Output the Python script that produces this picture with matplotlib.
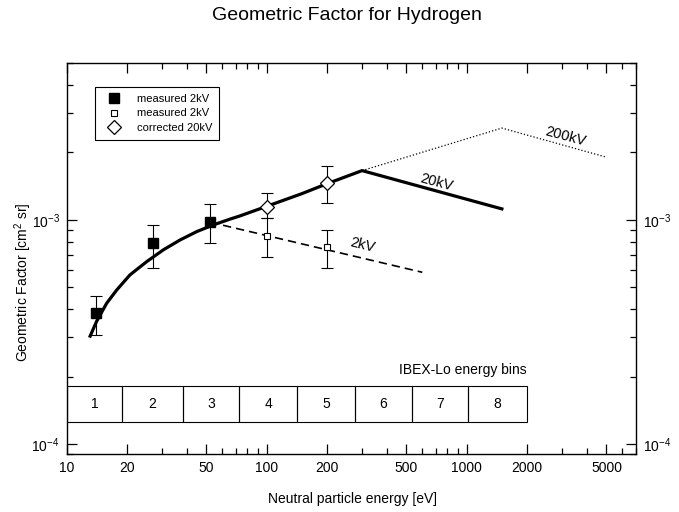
import numpy as np
import matplotlib
matplotlib.use('Agg')
import matplotlib.pyplot as plt
from matplotlib.patches import Rectangle
from matplotlib.lines import Line2D
from matplotlib.ticker import FixedLocator, FixedFormatter, LogLocator, NullFormatter

plt.rcParams['font.family'] = ['Liberation Sans', 'DejaVu Sans']
plt.rcParams['mathtext.fontset'] = 'custom'
plt.rcParams['mathtext.rm'] = 'Liberation Sans'

# measured 2kV (filled squares)
e_meas = [14.0, 26.9, 52.1]
g_meas = [3.83e-4, 7.87e-4, 9.77e-4]
g_meas_hi = [4.58e-4, 9.50e-4, 1.179e-3]
g_meas_lo = [3.07e-4, 6.12e-4, 7.87e-4]

# measured 2kV (small open squares)
e_open = [100, 200]
g_open = [8.48e-4, 7.60e-4]
g_open_hi = [1.018e-3, 9.02e-4]
g_open_lo = [6.82e-4, 6.09e-4]

# corrected 20kV (diamonds)
e_corr = [100, 200]
g_corr = [1.146e-3, 1.467e-3]
g_corr_hi = [1.316e-3, 1.74e-3]
g_corr_lo = [1.018e-3, 1.187e-3]

# 20kV curve
e_20 = [13.1, 14.1, 15.85, 17.8, 20.7, 25.1, 30.4, 36.9, 44.7, 54.1, 65.5, 73.5, 100, 150, 200, 300, 1500]
g_20 = [3.03e-4, 3.52e-4, 4.25e-4, 4.87e-4, 5.68e-4, 6.51e-4, 7.35e-4, 8.14e-4, 8.87e-4,
        9.50e-4, 1.008e-3, 1.042e-3, 1.15e-3, 1.31e-3, 1.45e-3, 1.66e-3, 1.12e-3]

# 2kV dashed line
e_2 = [52.1, 600]
g_2 = [9.77e-4, 5.84e-4]

# 200kV dotted line
e_200 = [300, 1500, 5000]
g_200 = [1.66e-3, 2.57e-3, 1.905e-3]

# IBEX-Lo energy bins
bin_edges = [10, 19, 38, 73, 142, 275, 530, 1020, 2000]
bin_labels = ['1', '2', '3', '4', '5', '6', '7', '8']
bin_ylo, bin_yhi = 1.26e-4, 1.82e-4

fig = plt.figure(figsize=(6.79, 5.12), dpi=100)
ax = fig.add_axes([0.0982, 0.1127, 0.8380, 0.7637])
ax.set_xscale('log')
ax.set_yscale('log')
ax.set_xlim(10, 7000)
ax.set_ylim(9e-5, 5e-3)

ax.plot(e_200, g_200, color='black', linestyle=':', linewidth=0.9)
ax.plot(e_2, g_2, color='black', linestyle=(0, (5, 3)), linewidth=1.2)
ax.plot(e_20, g_20, color='black', linestyle='-', linewidth=2.3)

err_kw = dict(fmt='none', ecolor='black', elinewidth=0.8, capsize=4.3, capthick=0.8)
ax.errorbar(e_meas, g_meas, yerr=[np.subtract(g_meas, g_meas_lo), np.subtract(g_meas_hi, g_meas)], **err_kw)
ax.errorbar(e_open, g_open, yerr=[np.subtract(g_open, g_open_lo), np.subtract(g_open_hi, g_open)], **err_kw)
ax.errorbar(e_corr, g_corr, yerr=[np.subtract(g_corr, g_corr_lo), np.subtract(g_corr_hi, g_corr)], **err_kw)

ax.plot(e_meas, g_meas, 's', color='black', markersize=7.2, zorder=5)
ax.plot(e_open, g_open, 's', markerfacecolor='white', markeredgecolor='black',
        markersize=4.3, markeredgewidth=0.8, zorder=5)
ax.plot(e_corr, g_corr, 'D', markerfacecolor='white', markeredgecolor='black',
        markersize=7.2, markeredgewidth=0.9, zorder=5)

ax.text(300, 7.7e-4, '2kV', rotation=-14, ha='center', va='center', rotation_mode='anchor', fontsize=10.5)
ax.text(706, 1.47e-3, '20kV', rotation=-15, ha='center', va='center', rotation_mode='anchor', fontsize=10.5)
ax.text(3119, 2.35e-3, '200kV', rotation=-15, ha='center', va='center', rotation_mode='anchor', fontsize=10.5)

# energy bin boxes
for lo, hi, lab in zip(bin_edges[:-1], bin_edges[1:], bin_labels):
    ax.add_patch(Rectangle((lo, bin_ylo), hi - lo, bin_yhi - bin_ylo, fill=False,
                           edgecolor='black', linewidth=0.8))
    ax.text(np.sqrt(lo * hi), np.sqrt(bin_ylo * bin_yhi), lab, ha='center', va='center', fontsize=10)
ax.text(bin_edges[-1], 2.15e-4, 'IBEX-Lo energy bins', ha='right', va='center', fontsize=10)

# ticks
major_x = [10, 20, 50, 100, 200, 500, 1000, 2000, 5000]
ax.xaxis.set_major_locator(FixedLocator(major_x))
ax.xaxis.set_major_formatter(FixedFormatter([str(v) for v in major_x]))
ax.xaxis.set_minor_locator(LogLocator(base=10, subs=(3, 4, 6, 7, 8, 9)))
ax.xaxis.set_minor_formatter(NullFormatter())
ax.yaxis.set_major_locator(LogLocator(base=10, numticks=10))
ax.yaxis.set_minor_locator(LogLocator(base=10, subs=np.arange(2, 10), numticks=10))
ax.yaxis.set_minor_formatter(NullFormatter())
ax.tick_params(which='both', direction='in', top=True, right=True, labelright=True, width=0.9)
ax.tick_params(which='major', length=7, labelsize=10, pad=5)
ax.tick_params(which='minor', length=4)
for s in ax.spines.values():
    s.set_linewidth(1.0)

handles = [
    Line2D([], [], marker='s', color='black', linestyle='none', markersize=7.2),
    Line2D([], [], marker='s', markerfacecolor='white', markeredgecolor='black', linestyle='none',
           markersize=4.3, markeredgewidth=0.8),
    Line2D([], [], marker='D', markerfacecolor='white', markeredgecolor='black', linestyle='none',
           markersize=7.2, markeredgewidth=0.9),
]
ax.legend(handles, ['measured 2kV', 'measured 2kV', 'corrected 20kV'], loc='upper left',
          bbox_to_anchor=(0.0497, 0.9386), borderaxespad=0, fancybox=False, edgecolor='black',
          framealpha=1, fontsize=8, labelspacing=0.4, handlelength=2.2, handletextpad=1.0,
          borderpad=0.6).get_frame().set_linewidth(0.8)

fig.text(347 / 679, 1 - 15 / 512, 'Geometric Factor for Hydrogen', ha='center', va='center', fontsize=14)
fig.text(352 / 679, 1 - 499 / 512, 'Neutral particle energy [eV]', ha='center', va='center', fontsize=10)
fig.text(23 / 679, 1 - 282 / 512, 'Geometric Factor [cm$^2$ sr]', ha='center', va='center',
         rotation=90, fontsize=10)

fig.savefig('out.png', dpi=100)
